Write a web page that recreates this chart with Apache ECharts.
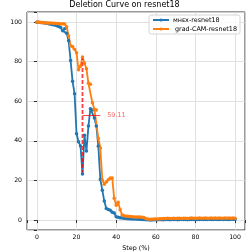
<!DOCTYPE html>
<html>
<head>
<meta charset="utf-8">
<script src="https://cdn.jsdelivr.net/npm/echarts@6/dist/echarts.min.js"></script>
<style>html,body{margin:0;padding:0;background:#fff}#c{width:249px;height:252px}</style>
</head>
<body>
<div id="c"></div>
<script>
var steps = [0,1,2,3,4,5,6,7,8,9,10,11,12,13,14,15,16,17,18,19,20,21,22,23,24,25,26,27,28,29,30,31,32,33,34,35,36,37,38,39,40,41,42,43,44,45,46,47,48,49,50,51,52,53,54,55,56,57,58,59,60,61,62,63,64,65,66,67,68,69,70,71,72,73,74,75,76,77,78,79,80,81,82,83,84,85,86,87,88,89,90,91,92,93,94,95,96,97,98,99,100];
var mhex = [99.8,99.8,99.7,99.6,99.5,99.3,99.1,98.8,98.6,98.4,98.1,97.7,97.2,95.6,96.6,94.3,90.5,80.5,70.0,63.8,
  43.6,39.5,37.4,23.23,42.8,34.9,47.5,56.2,55.5,51.5,47.5,37.2,20.5,15.1,9.6,5.9,5.4,5.0,4.0,3.6,
  1.7,1.4,1.2,1.0,0.9,0.8,0.7,0.7,0.6,0.5,0.5,0.4,0.4,0.3,0.3,0.2,0.2,0.1,0.1,0.2,
  0.2,0.2,0.3,0.2,0.2,0.3,0.3,0.2,0.3,0.3,0.3,0.2,0.3,0.3,0.3,0.3,0.2,0.3,0.3,0.3,
  0.2,0.3,0.3,0.4,0.3,0.3,0.3,0.4,0.3,0.3,0.4,0.3,0.3,0.4,0.3,0.4,0.3,0.3,0.4,0.4,0.4];
var gradcam = [99.9,99.8,99.7,99.7,99.6,99.5,99.4,99.4,99.3,99.3,99.2,99.2,99.0,99.1,98.9,97.6,93.0,88.0,87.6,86.2,
  84.4,75.8,77.6,82.34,79.3,76.4,69.0,68.6,59.2,55.9,55.6,41.3,36.4,20.2,18.1,19.2,20.3,21.2,21.3,11.0,
  7.5,9.0,5.2,2.6,2.2,2.0,1.9,1.8,1.7,1.6,1.6,1.5,1.5,1.4,1.3,0.7,0.5,0.4,0.4,0.5,
  0.6,0.6,0.7,0.7,0.8,0.8,0.9,0.8,0.8,0.9,0.8,0.9,0.9,0.8,0.9,0.9,0.8,0.9,1.0,0.9,
  0.9,0.9,1.0,0.9,0.9,1.0,0.9,0.9,1.0,0.9,1.0,0.9,1.0,0.9,0.9,1.0,0.9,1.0,0.9,1.0,0.9];
var xTicks = [0,20,40,60,80,100];
var yTicks = [0,20,40,60,80,100];
var seriesNames = ['ᴍʜᴇx-resnet18', ' grad-CAM-resnet18'];
var titleText = 'Deletion Curve on resnet18';
var xName = 'Step (%)';
var yName = 'Confidence';
var gapStep = 23;

var gi = steps.indexOf(gapStep);
var lo = mhex[gi], hi = gradcam[gi];
var diff = hi - lo;
var mid = (hi + lo) / 2;

var font = '"DejaVu Sans", sans-serif';
var chart = echarts.init(document.getElementById('c'), null, {renderer: 'canvas'});
function isTick(v, arr){ return arr.indexOf(Math.round(v*1000)/1000) >= 0; }
chart.setOption({
  animation: false,
  backgroundColor: '#fff',
  textStyle: {fontFamily: font},
  title: {
    text: titleText, left: 'center', top: 0, padding: [1, 0, 0, 23],
    textStyle: {fontFamily: font, fontSize: 8, fontWeight: 'normal', color: '#000'}
  },
  grid: {left: 27, right: 4, top: 12, bottom: 22, show: true, borderColor: '#000', borderWidth: 0.8,
    containLabel: false, outerBoundsMode: 'none'},
  legend: {
    data: seriesNames, orient: 'vertical', right: 9, top: 15,
    itemWidth: 16, itemHeight: 4, itemGap: 3,
    padding: [2, 3, 2, 3],
    backgroundColor: 'rgba(255,255,255,0.8)', borderColor: '#ccc', borderWidth: 0.8, borderRadius: 2,
    textStyle: {fontFamily: font, fontSize: 6.4, color: '#000', padding: [0,0,0,-1]}
  },
  xAxis: {
    type: 'value', min: -5, max: 105,
    name: xName, nameLocation: 'middle', nameGap: 12,
    nameTextStyle: {fontFamily: font, fontSize: 6.4, color: '#000'},
    axisLine: {show: false},
    axisTick: {show: true, length: 3, inside: false, lineStyle: {color: '#000', width: 0.8}},
    axisLabel: {fontFamily: font, fontSize: 6.2, color: '#000', margin: 4,
      formatter: function(v){ return isTick(v, xTicks) ? String(v) : ''; }},
    splitLine: {show: true, lineStyle: {color: '#d9d9d9', width: 0.8}}
  },
  yAxis: {
    type: 'value', min: -5, max: 105,
    name: yName, nameLocation: 'middle', nameGap: 19, nameRotate: 90,
    nameTextStyle: {fontFamily: font, fontSize: 6.4, color: '#000'},
    axisLine: {show: false},
    axisTick: {show: true, length: 3, inside: false, lineStyle: {color: '#000', width: 0.8}},
    axisLabel: {fontFamily: font, fontSize: 6.2, color: '#000', margin: 5,
      formatter: function(v){ return isTick(v, yTicks) ? String(v) : ''; }},
    splitLine: {show: true, lineStyle: {color: '#d9d9d9', width: 0.8}}
  },
  series: [
    {
      name: seriesNames[0], type: 'line', color: '#1f77b4',
      data: steps.map(function(s, i){ return [s, mhex[i]]; }),
      symbol: 'circle', symbolSize: 3.5, showSymbol: true,
      lineStyle: {width: 1.8, color: '#1f77b4'}, itemStyle: {color: '#1f77b4'}
    },
    {
      name: seriesNames[1], type: 'line', color: '#ff7f0e',
      data: steps.map(function(s, i){ return [s, gradcam[i]]; }),
      symbol: 'circle', symbolSize: 3.5, showSymbol: true,
      lineStyle: {width: 1.8, color: '#ff7f0e'}, itemStyle: {color: '#ff7f0e'}
    },
    {
      name: 'gap', type: 'line', silent: true,
      data: [[gapStep, lo], [gapStep, hi]],
      symbol: 'none', lineStyle: {width: 1.8, type: [4, 2], color: 'rgba(255,0,0,0.75)'}
    },
    {
      name: 'gapmark', type: 'line', silent: true,
      data: [[gapStep, mid], [gapStep + 9, mid]],
      symbol: 'none', lineStyle: {width: 1, color: 'rgba(255,0,0,0.75)'}
    },
    {
      name: 'gaplabel', type: 'scatter', silent: true, symbolSize: 0,
      data: [[gapStep + 12.5, mid]],
      label: {show: true, position: 'right', distance: 0, formatter: diff.toFixed(2),
        fontFamily: font, fontSize: 6.4, color: 'rgba(255,0,0,0.8)'}
    }
  ]
});
</script>
</body>
</html>
